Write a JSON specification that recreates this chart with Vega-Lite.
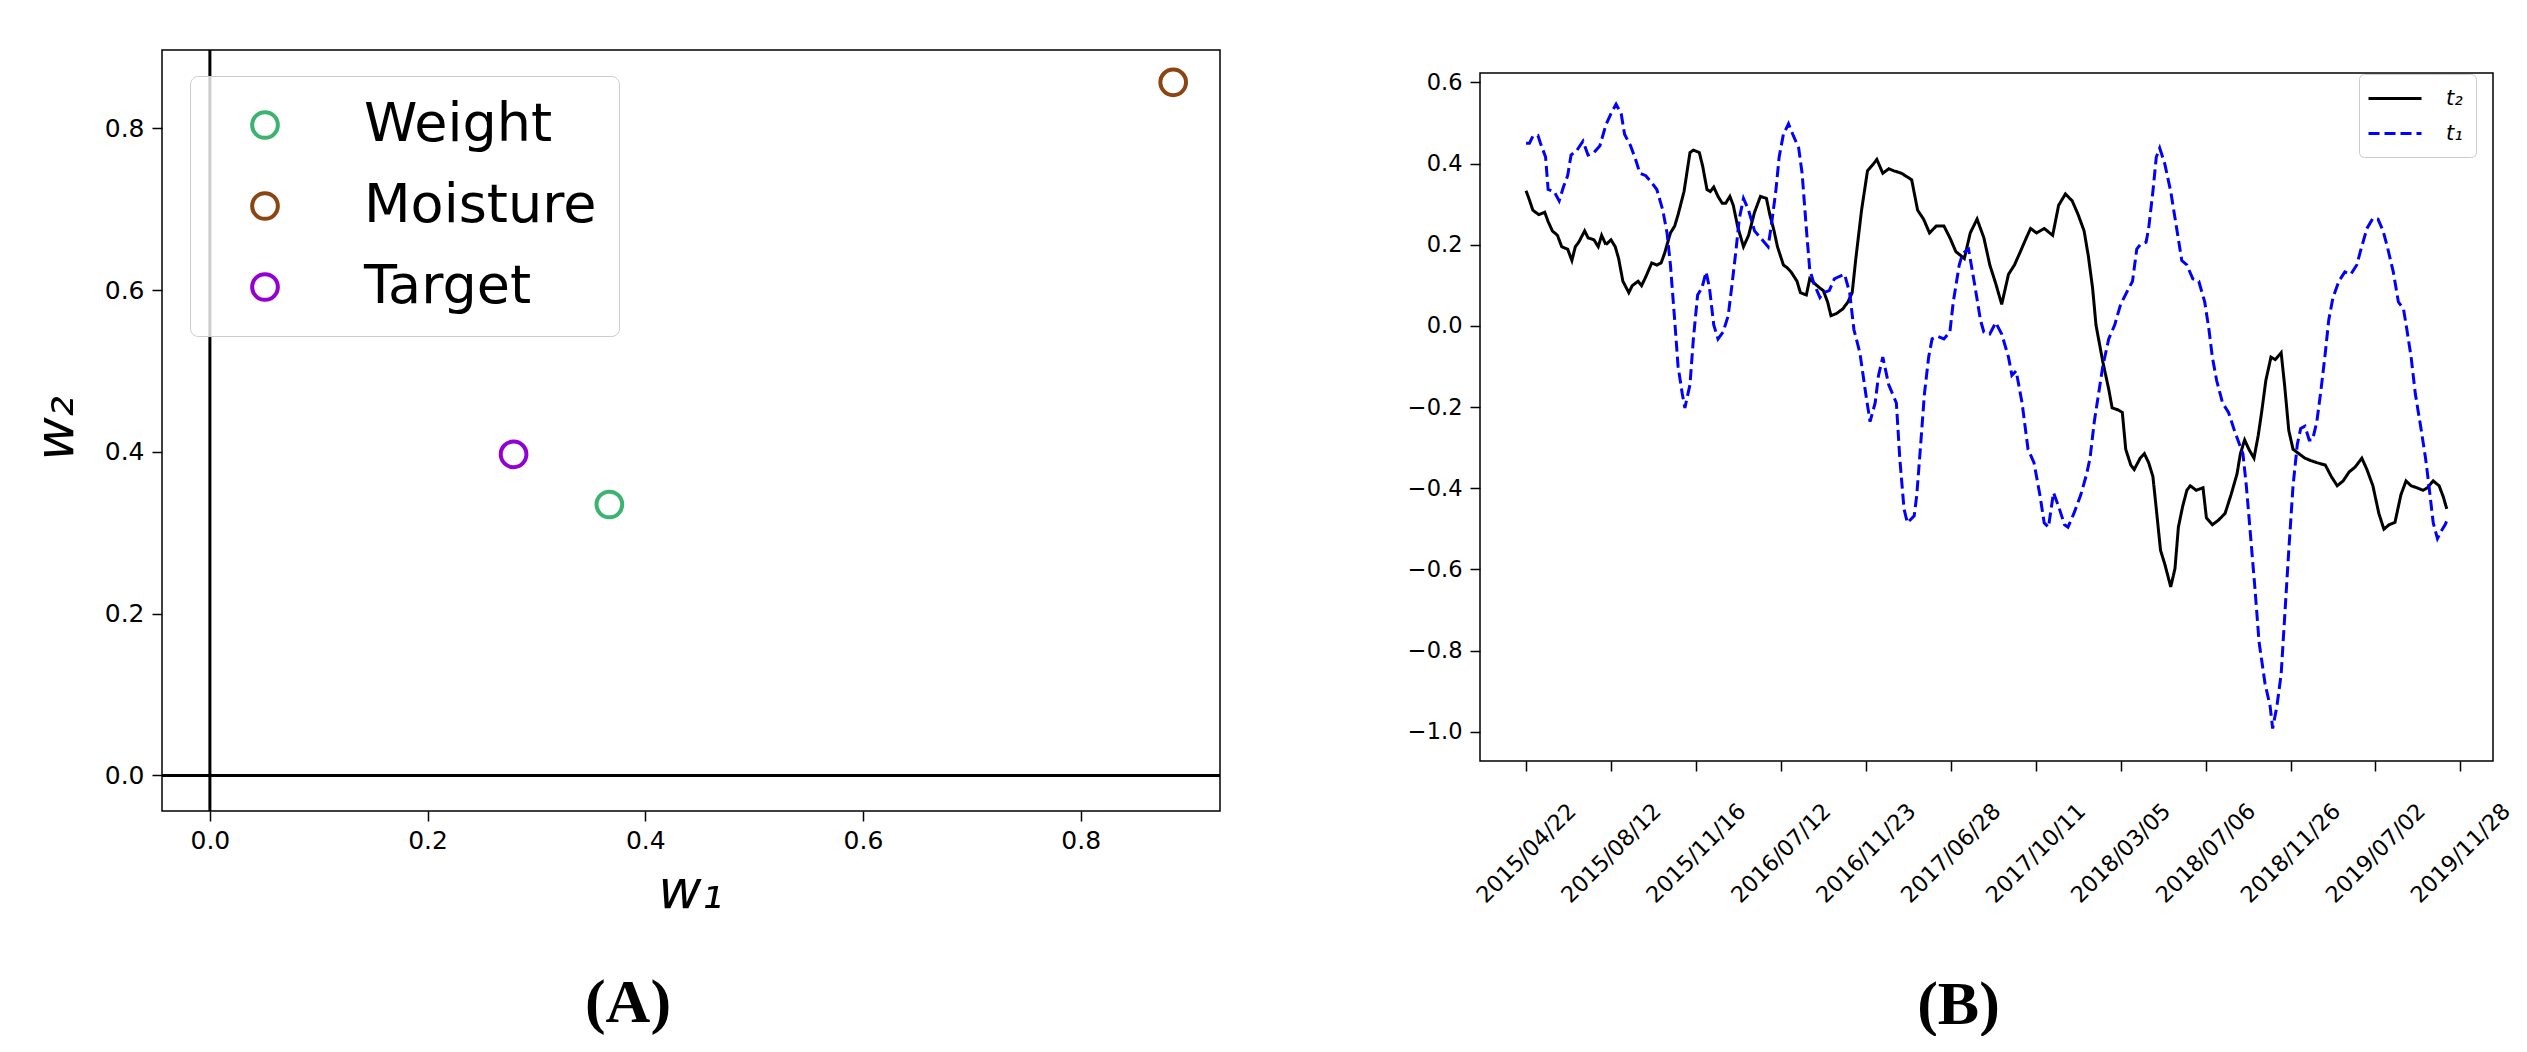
{
  "$schema": "https://vega.github.io/schema/vega-lite/v6.json",
  "background": "white",
  "padding": {"left": 29, "top": 47, "right": 0, "bottom": 0},
  "spacing": 183,
  "config": {
    "view": {"stroke": "black", "strokeWidth": 1.5},
    "font": "DejaVu Sans"
  },
  "resolve": {"scale": {"color": "independent", "strokeDash": "independent"}, "legend": {"color": "independent", "strokeDash": "independent"}},
  "hconcat": [
    {
      "width": 1058,
      "height": 761,
      "title": {"text": "(A)", "orient": "bottom", "font": "Liberation Serif", "fontWeight": "bold", "fontSize": 62, "color": "black", "offset": 55, "baseline": "top", "anchor": "middle", "frame": "group", "dx": -63},
      "layer": [
        {
          "data": {"values": [{}]},
          "mark": {"type": "rule", "color": "black", "strokeWidth": 3},
          "encoding": {"x": {"datum": 0, "type": "quantitative"}}
        },
        {
          "data": {"values": [{}]},
          "mark": {"type": "rule", "color": "black", "strokeWidth": 3},
          "encoding": {"y": {"datum": 0, "type": "quantitative"}}
        },
        {
          "data": {"values": [
            {"feature": "Weight", "w1": 0.367, "w2": 0.335},
            {"feature": "Moisture", "w1": 0.885, "w2": 0.857},
            {"feature": "Target", "w1": 0.279, "w2": 0.397}
          ]},
          "mark": {"type": "point", "filled": false, "shape": "circle", "strokeWidth": 4, "size": 660, "opacity": 1},
          "encoding": {
            "x": {"field": "w1", "type": "quantitative",
              "scale": {"domain": [-0.044, 0.928], "nice": false, "zero": false},
              "axis": {"title": "w₁", "values": [0, 0.2, 0.4, 0.6, 0.8], "format": ".1f", "grid": false, "domain": false,
                "tickColor": "black", "tickWidth": 1.5, "tickSize": 10, "labelFont": "DejaVu Sans", "labelFontSize": 25, "labelColor": "black",
                "labelPadding": 7, "labelFlush": false, "labelOverlap": false, "labelBaseline": "top",
                "titleFont": "DejaVu Sans", "titleFontStyle": "italic", "titleFontWeight": "normal", "titleFontSize": 53, "titleColor": "black",
                "titleX": 528, "titleY": 80, "titleAlign": "center", "titleBaseline": "middle", "titleAngle": 0}},
            "y": {"field": "w2", "type": "quantitative",
              "scale": {"domain": [-0.044, 0.897], "nice": false, "zero": false},
              "axis": {"title": "w₂", "values": [0, 0.2, 0.4, 0.6, 0.8], "format": ".1f", "grid": false, "domain": false,
                "tickColor": "black", "tickWidth": 1.5, "tickSize": 10, "labelFont": "DejaVu Sans", "labelFontSize": 25, "labelColor": "black",
                "labelPadding": 8, "labelFlush": false, "labelOverlap": false,
                "titleFont": "DejaVu Sans", "titleFontStyle": "italic", "titleFontWeight": "normal", "titleFontSize": 53, "titleColor": "black",
                "titleX": -106, "titleY": 378, "titleAlign": "center", "titleBaseline": "middle", "titleAngle": -90}},
            "color": {"field": "feature", "type": "nominal",
              "scale": {"domain": ["Weight", "Moisture", "Target"], "range": ["#3CB371", "#8B4513", "#9400D3"]},
              "legend": {"title": null, "orient": "none", "legendX": 28, "legendY": 26, "padding": 22,
                "fillColor": "rgba(255,255,255,0.8)", "strokeColor": "#cccccc", "cornerRadius": 8,
                "symbolType": "circle", "symbolSize": 660, "symbolStrokeWidth": 4, "symbolFillColor": "transparent", "symbolOffset": 26,
                "labelFont": "DejaVu Sans", "labelFontStyle": "normal", "labelFontSize": 54, "labelColor": "black", "labelOffset": 72, "rowPadding": 27, "labelLimit": 0}}
          }
        }
      ]
    },
    {
      "spacing": 19,
      "vconcat": [
        {
          "width": 1013,
          "height": 1,
          "view": {"stroke": null},
          "data": {"values": []},
          "mark": {"type": "rule"},
          "encoding": {}
        },
        {
          "width": 1013,
          "height": 688,
          "data": {"values": [
            {"i":0,"v":0.333,"s":"t₂"},{"i":4,"v":0.31,"s":"t₂"},{"i":8,"v":0.285,"s":"t₂"},{"i":15,"v":0.274,"s":"t₂"},{"i":22,"v":0.28,"s":"t₂"},{"i":26,"v":0.257,"s":"t₂"},{"i":31,"v":0.234,"s":"t₂"},{"i":37,"v":0.223,"s":"t₂"},{"i":42,"v":0.195,"s":"t₂"},{"i":49,"v":0.189,"s":"t₂"},{"i":54,"v":0.161,"s":"t₂"},{"i":58,"v":0.195,"s":"t₂"},{"i":62,"v":0.206,"s":"t₂"},{"i":69,"v":0.234,"s":"t₂"},{"i":73,"v":0.217,"s":"t₂"},{"i":80,"v":0.212,"s":"t₂"},{"i":85,"v":0.195,"s":"t₂"},{"i":89,"v":0.223,"s":"t₂"},{"i":94,"v":0.2,"s":"t₂"},{"i":100,"v":0.212,"s":"t₂"},{"i":105,"v":0.195,"s":"t₂"},{"i":109,"v":0.166,"s":"t₂"},{"i":114,"v":0.11,"s":"t₂"},{"i":121,"v":0.082,"s":"t₂"},{"i":125,"v":0.099,"s":"t₂"},{"i":132,"v":0.11,"s":"t₂"},{"i":136,"v":0.099,"s":"t₂"},{"i":141,"v":0.121,"s":"t₂"},{"i":148,"v":0.155,"s":"t₂"},{"i":154,"v":0.15,"s":"t₂"},{"i":159,"v":0.155,"s":"t₂"},{"i":163,"v":0.178,"s":"t₂"},{"i":170,"v":0.229,"s":"t₂"},{"i":175,"v":0.246,"s":"t₂"},{"i":179,"v":0.274,"s":"t₂"},{"i":186,"v":0.331,"s":"t₂"},{"i":193,"v":0.427,"s":"t₂"},{"i":197,"v":0.433,"s":"t₂"},{"i":204,"v":0.427,"s":"t₂"},{"i":208,"v":0.393,"s":"t₂"},{"i":213,"v":0.336,"s":"t₂"},{"i":217,"v":0.331,"s":"t₂"},{"i":221,"v":0.342,"s":"t₂"},{"i":226,"v":0.319,"s":"t₂"},{"i":231,"v":0.302,"s":"t₂"},{"i":235,"v":0.302,"s":"t₂"},{"i":240,"v":0.319,"s":"t₂"},{"i":244,"v":0.297,"s":"t₂"},{"i":249,"v":0.246,"s":"t₂"},{"i":256,"v":0.195,"s":"t₂"},{"i":262,"v":0.223,"s":"t₂"},{"i":269,"v":0.28,"s":"t₂"},{"i":276,"v":0.319,"s":"t₂"},{"i":283,"v":0.314,"s":"t₂"},{"i":287,"v":0.274,"s":"t₂"},{"i":292,"v":0.234,"s":"t₂"},{"i":296,"v":0.195,"s":"t₂"},{"i":303,"v":0.15,"s":"t₂"},{"i":307,"v":0.144,"s":"t₂"},{"i":312,"v":0.133,"s":"t₂"},{"i":319,"v":0.11,"s":"t₂"},{"i":323,"v":0.082,"s":"t₂"},{"i":330,"v":0.076,"s":"t₂"},{"i":334,"v":0.116,"s":"t₂"},{"i":340,"v":0.104,"s":"t₂"},{"i":346,"v":0.093,"s":"t₂"},{"i":350,"v":0.087,"s":"t₂"},{"i":355,"v":0.059,"s":"t₂"},{"i":359,"v":0.025,"s":"t₂"},{"i":366,"v":0.031,"s":"t₂"},{"i":373,"v":0.042,"s":"t₂"},{"i":379,"v":0.059,"s":"t₂"},{"i":384,"v":0.082,"s":"t₂"},{"i":388,"v":0.161,"s":"t₂"},{"i":395,"v":0.285,"s":"t₂"},{"i":402,"v":0.382,"s":"t₂"},{"i":409,"v":0.399,"s":"t₂"},{"i":413,"v":0.41,"s":"t₂"},{"i":420,"v":0.376,"s":"t₂"},{"i":427,"v":0.387,"s":"t₂"},{"i":433,"v":0.382,"s":"t₂"},{"i":442,"v":0.376,"s":"t₂"},{"i":454,"v":0.36,"s":"t₂"},{"i":461,"v":0.285,"s":"t₂"},{"i":468,"v":0.263,"s":"t₂"},{"i":475,"v":0.229,"s":"t₂"},{"i":483,"v":0.246,"s":"t₂"},{"i":492,"v":0.246,"s":"t₂"},{"i":499,"v":0.217,"s":"t₂"},{"i":506,"v":0.183,"s":"t₂"},{"i":516,"v":0.166,"s":"t₂"},{"i":523,"v":0.229,"s":"t₂"},{"i":531,"v":0.263,"s":"t₂"},{"i":539,"v":0.217,"s":"t₂"},{"i":546,"v":0.15,"s":"t₂"},{"i":553,"v":0.104,"s":"t₂"},{"i":560,"v":0.053,"s":"t₂"},{"i":568,"v":0.127,"s":"t₂"},{"i":575,"v":0.15,"s":"t₂"},{"i":582,"v":0.183,"s":"t₂"},{"i":589,"v":0.217,"s":"t₂"},{"i":594,"v":0.24,"s":"t₂"},{"i":601,"v":0.229,"s":"t₂"},{"i":610,"v":0.24,"s":"t₂"},{"i":620,"v":0.223,"s":"t₂"},{"i":627,"v":0.297,"s":"t₂"},{"i":635,"v":0.325,"s":"t₂"},{"i":643,"v":0.308,"s":"t₂"},{"i":650,"v":0.274,"s":"t₂"},{"i":657,"v":0.234,"s":"t₂"},{"i":662,"v":0.172,"s":"t₂"},{"i":667,"v":0.093,"s":"t₂"},{"i":671,"v":0.002,"s":"t₂"},{"i":679,"v":-0.088,"s":"t₂"},{"i":686,"v":-0.156,"s":"t₂"},{"i":690,"v":-0.202,"s":"t₂"},{"i":697,"v":-0.207,"s":"t₂"},{"i":702,"v":-0.213,"s":"t₂"},{"i":706,"v":-0.304,"s":"t₂"},{"i":712,"v":-0.343,"s":"t₂"},{"i":716,"v":-0.354,"s":"t₂"},{"i":723,"v":-0.326,"s":"t₂"},{"i":728,"v":-0.315,"s":"t₂"},{"i":733,"v":-0.337,"s":"t₂"},{"i":738,"v":-0.371,"s":"t₂"},{"i":742,"v":-0.451,"s":"t₂"},{"i":747,"v":-0.553,"s":"t₂"},{"i":752,"v":-0.587,"s":"t₂"},{"i":759,"v":-0.643,"s":"t₂"},{"i":764,"v":-0.598,"s":"t₂"},{"i":768,"v":-0.496,"s":"t₂"},{"i":773,"v":-0.445,"s":"t₂"},{"i":778,"v":-0.405,"s":"t₂"},{"i":782,"v":-0.394,"s":"t₂"},{"i":789,"v":-0.405,"s":"t₂"},{"i":797,"v":-0.399,"s":"t₂"},{"i":801,"v":-0.473,"s":"t₂"},{"i":808,"v":-0.49,"s":"t₂"},{"i":815,"v":-0.479,"s":"t₂"},{"i":823,"v":-0.462,"s":"t₂"},{"i":830,"v":-0.416,"s":"t₂"},{"i":837,"v":-0.365,"s":"t₂"},{"i":841,"v":-0.315,"s":"t₂"},{"i":846,"v":-0.281,"s":"t₂"},{"i":851,"v":-0.304,"s":"t₂"},{"i":857,"v":-0.326,"s":"t₂"},{"i":862,"v":-0.27,"s":"t₂"},{"i":866,"v":-0.213,"s":"t₂"},{"i":871,"v":-0.134,"s":"t₂"},{"i":877,"v":-0.077,"s":"t₂"},{"i":882,"v":-0.083,"s":"t₂"},{"i":889,"v":-0.066,"s":"t₂"},{"i":893,"v":-0.145,"s":"t₂"},{"i":898,"v":-0.258,"s":"t₂"},{"i":903,"v":-0.304,"s":"t₂"},{"i":910,"v":-0.315,"s":"t₂"},{"i":917,"v":-0.326,"s":"t₂"},{"i":924,"v":-0.332,"s":"t₂"},{"i":931,"v":-0.337,"s":"t₂"},{"i":941,"v":-0.343,"s":"t₂"},{"i":948,"v":-0.371,"s":"t₂"},{"i":955,"v":-0.394,"s":"t₂"},{"i":962,"v":-0.382,"s":"t₂"},{"i":969,"v":-0.36,"s":"t₂"},{"i":976,"v":-0.348,"s":"t₂"},{"i":984,"v":-0.326,"s":"t₂"},{"i":990,"v":-0.354,"s":"t₂"},{"i":997,"v":-0.394,"s":"t₂"},{"i":1004,"v":-0.462,"s":"t₂"},{"i":1010,"v":-0.501,"s":"t₂"},{"i":1016,"v":-0.49,"s":"t₂"},{"i":1023,"v":-0.484,"s":"t₂"},{"i":1030,"v":-0.416,"s":"t₂"},{"i":1036,"v":-0.382,"s":"t₂"},{"i":1042,"v":-0.394,"s":"t₂"},{"i":1049,"v":-0.399,"s":"t₂"},{"i":1056,"v":-0.405,"s":"t₂"},{"i":1061,"v":-0.399,"s":"t₂"},{"i":1068,"v":-0.382,"s":"t₂"},{"i":1075,"v":-0.394,"s":"t₂"},{"i":1080,"v":-0.422,"s":"t₂"},{"i":1084,"v":-0.451,"s":"t₂"},
            {"i":0,"v":0.45,"s":"t₁"},{"i":4,"v":0.45,"s":"t₁"},{"i":8,"v":0.467,"s":"t₁"},{"i":14,"v":0.469,"s":"t₁"},{"i":17,"v":0.45,"s":"t₁"},{"i":23,"v":0.416,"s":"t₁"},{"i":26,"v":0.336,"s":"t₁"},{"i":33,"v":0.331,"s":"t₁"},{"i":39,"v":0.308,"s":"t₁"},{"i":44,"v":0.342,"s":"t₁"},{"i":49,"v":0.37,"s":"t₁"},{"i":53,"v":0.421,"s":"t₁"},{"i":60,"v":0.433,"s":"t₁"},{"i":67,"v":0.455,"s":"t₁"},{"i":73,"v":0.421,"s":"t₁"},{"i":80,"v":0.427,"s":"t₁"},{"i":87,"v":0.444,"s":"t₁"},{"i":94,"v":0.495,"s":"t₁"},{"i":100,"v":0.523,"s":"t₁"},{"i":106,"v":0.546,"s":"t₁"},{"i":112,"v":0.523,"s":"t₁"},{"i":116,"v":0.472,"s":"t₁"},{"i":123,"v":0.444,"s":"t₁"},{"i":129,"v":0.41,"s":"t₁"},{"i":134,"v":0.376,"s":"t₁"},{"i":141,"v":0.37,"s":"t₁"},{"i":148,"v":0.353,"s":"t₁"},{"i":154,"v":0.336,"s":"t₁"},{"i":161,"v":0.285,"s":"t₁"},{"i":166,"v":0.229,"s":"t₁"},{"i":170,"v":0.15,"s":"t₁"},{"i":175,"v":0.014,"s":"t₁"},{"i":179,"v":-0.1,"s":"t₁"},{"i":184,"v":-0.168,"s":"t₁"},{"i":187,"v":-0.202,"s":"t₁"},{"i":193,"v":-0.145,"s":"t₁"},{"i":197,"v":-0.032,"s":"t₁"},{"i":202,"v":0.076,"s":"t₁"},{"i":207,"v":0.093,"s":"t₁"},{"i":212,"v":0.133,"s":"t₁"},{"i":216,"v":0.093,"s":"t₁"},{"i":221,"v":0.002,"s":"t₁"},{"i":226,"v":-0.032,"s":"t₁"},{"i":232,"v":-0.015,"s":"t₁"},{"i":238,"v":0.025,"s":"t₁"},{"i":242,"v":0.093,"s":"t₁"},{"i":247,"v":0.183,"s":"t₁"},{"i":251,"v":0.263,"s":"t₁"},{"i":256,"v":0.314,"s":"t₁"},{"i":262,"v":0.285,"s":"t₁"},{"i":269,"v":0.234,"s":"t₁"},{"i":278,"v":0.212,"s":"t₁"},{"i":285,"v":0.195,"s":"t₁"},{"i":289,"v":0.251,"s":"t₁"},{"i":294,"v":0.331,"s":"t₁"},{"i":298,"v":0.416,"s":"t₁"},{"i":303,"v":0.472,"s":"t₁"},{"i":309,"v":0.498,"s":"t₁"},{"i":314,"v":0.472,"s":"t₁"},{"i":321,"v":0.438,"s":"t₁"},{"i":325,"v":0.376,"s":"t₁"},{"i":330,"v":0.24,"s":"t₁"},{"i":334,"v":0.138,"s":"t₁"},{"i":339,"v":0.104,"s":"t₁"},{"i":346,"v":0.07,"s":"t₁"},{"i":350,"v":0.082,"s":"t₁"},{"i":357,"v":0.087,"s":"t₁"},{"i":363,"v":0.116,"s":"t₁"},{"i":368,"v":0.121,"s":"t₁"},{"i":375,"v":0.127,"s":"t₁"},{"i":381,"v":0.082,"s":"t₁"},{"i":386,"v":-0.009,"s":"t₁"},{"i":393,"v":-0.066,"s":"t₁"},{"i":400,"v":-0.168,"s":"t₁"},{"i":405,"v":-0.236,"s":"t₁"},{"i":411,"v":-0.19,"s":"t₁"},{"i":415,"v":-0.122,"s":"t₁"},{"i":420,"v":-0.077,"s":"t₁"},{"i":427,"v":-0.145,"s":"t₁"},{"i":436,"v":-0.19,"s":"t₁"},{"i":440,"v":-0.326,"s":"t₁"},{"i":445,"v":-0.451,"s":"t₁"},{"i":449,"v":-0.485,"s":"t₁"},{"i":457,"v":-0.468,"s":"t₁"},{"i":460,"v":-0.417,"s":"t₁"},{"i":465,"v":-0.281,"s":"t₁"},{"i":469,"v":-0.168,"s":"t₁"},{"i":474,"v":-0.077,"s":"t₁"},{"i":478,"v":-0.032,"s":"t₁"},{"i":485,"v":-0.026,"s":"t₁"},{"i":492,"v":-0.032,"s":"t₁"},{"i":499,"v":-0.015,"s":"t₁"},{"i":503,"v":0.059,"s":"t₁"},{"i":510,"v":0.15,"s":"t₁"},{"i":514,"v":0.178,"s":"t₁"},{"i":521,"v":0.189,"s":"t₁"},{"i":528,"v":0.104,"s":"t₁"},{"i":535,"v":0.014,"s":"t₁"},{"i":539,"v":-0.015,"s":"t₁"},{"i":546,"v":-0.02,"s":"t₁"},{"i":553,"v":0.008,"s":"t₁"},{"i":560,"v":-0.02,"s":"t₁"},{"i":568,"v":-0.077,"s":"t₁"},{"i":572,"v":-0.122,"s":"t₁"},{"i":577,"v":-0.111,"s":"t₁"},{"i":584,"v":-0.19,"s":"t₁"},{"i":591,"v":-0.304,"s":"t₁"},{"i":598,"v":-0.337,"s":"t₁"},{"i":605,"v":-0.417,"s":"t₁"},{"i":610,"v":-0.485,"s":"t₁"},{"i":615,"v":-0.496,"s":"t₁"},{"i":621,"v":-0.411,"s":"t₁"},{"i":627,"v":-0.445,"s":"t₁"},{"i":634,"v":-0.49,"s":"t₁"},{"i":638,"v":-0.496,"s":"t₁"},{"i":645,"v":-0.462,"s":"t₁"},{"i":653,"v":-0.417,"s":"t₁"},{"i":660,"v":-0.365,"s":"t₁"},{"i":664,"v":-0.326,"s":"t₁"},{"i":669,"v":-0.236,"s":"t₁"},{"i":674,"v":-0.168,"s":"t₁"},{"i":679,"v":-0.1,"s":"t₁"},{"i":686,"v":-0.032,"s":"t₁"},{"i":693,"v":0.002,"s":"t₁"},{"i":700,"v":0.053,"s":"t₁"},{"i":707,"v":0.082,"s":"t₁"},{"i":714,"v":0.11,"s":"t₁"},{"i":719,"v":0.189,"s":"t₁"},{"i":723,"v":0.2,"s":"t₁"},{"i":730,"v":0.206,"s":"t₁"},{"i":733,"v":0.24,"s":"t₁"},{"i":738,"v":0.331,"s":"t₁"},{"i":742,"v":0.416,"s":"t₁"},{"i":746,"v":0.438,"s":"t₁"},{"i":752,"v":0.399,"s":"t₁"},{"i":759,"v":0.331,"s":"t₁"},{"i":766,"v":0.24,"s":"t₁"},{"i":772,"v":0.161,"s":"t₁"},{"i":778,"v":0.15,"s":"t₁"},{"i":785,"v":0.116,"s":"t₁"},{"i":792,"v":0.11,"s":"t₁"},{"i":799,"v":0.059,"s":"t₁"},{"i":804,"v":-0.009,"s":"t₁"},{"i":808,"v":-0.077,"s":"t₁"},{"i":813,"v":-0.134,"s":"t₁"},{"i":820,"v":-0.19,"s":"t₁"},{"i":827,"v":-0.213,"s":"t₁"},{"i":834,"v":-0.258,"s":"t₁"},{"i":844,"v":-0.315,"s":"t₁"},{"i":848,"v":-0.394,"s":"t₁"},{"i":853,"v":-0.518,"s":"t₁"},{"i":858,"v":-0.643,"s":"t₁"},{"i":863,"v":-0.779,"s":"t₁"},{"i":870,"v":-0.881,"s":"t₁"},{"i":876,"v":-0.937,"s":"t₁"},{"i":879,"v":-0.992,"s":"t₁"},{"i":884,"v":-0.937,"s":"t₁"},{"i":889,"v":-0.858,"s":"t₁"},{"i":893,"v":-0.722,"s":"t₁"},{"i":898,"v":-0.552,"s":"t₁"},{"i":903,"v":-0.394,"s":"t₁"},{"i":908,"v":-0.292,"s":"t₁"},{"i":912,"v":-0.253,"s":"t₁"},{"i":917,"v":-0.247,"s":"t₁"},{"i":922,"v":-0.281,"s":"t₁"},{"i":926,"v":-0.281,"s":"t₁"},{"i":931,"v":-0.236,"s":"t₁"},{"i":936,"v":-0.156,"s":"t₁"},{"i":941,"v":-0.066,"s":"t₁"},{"i":945,"v":0.014,"s":"t₁"},{"i":950,"v":0.07,"s":"t₁"},{"i":957,"v":0.11,"s":"t₁"},{"i":964,"v":0.133,"s":"t₁"},{"i":971,"v":0.127,"s":"t₁"},{"i":978,"v":0.15,"s":"t₁"},{"i":983,"v":0.189,"s":"t₁"},{"i":990,"v":0.24,"s":"t₁"},{"i":997,"v":0.265,"s":"t₁"},{"i":1003,"v":0.263,"s":"t₁"},{"i":1009,"v":0.234,"s":"t₁"},{"i":1014,"v":0.195,"s":"t₁"},{"i":1021,"v":0.133,"s":"t₁"},{"i":1027,"v":0.059,"s":"t₁"},{"i":1033,"v":0.042,"s":"t₁"},{"i":1037,"v":-0.009,"s":"t₁"},{"i":1042,"v":-0.077,"s":"t₁"},{"i":1047,"v":-0.168,"s":"t₁"},{"i":1054,"v":-0.258,"s":"t₁"},{"i":1059,"v":-0.326,"s":"t₁"},{"i":1063,"v":-0.394,"s":"t₁"},{"i":1068,"v":-0.485,"s":"t₁"},{"i":1073,"v":-0.524,"s":"t₁"},{"i":1077,"v":-0.507,"s":"t₁"},{"i":1082,"v":-0.49,"s":"t₁"},{"i":1084,"v":-0.48,"s":"t₁"}
          ]},
          "mark": {"type": "line", "strokeWidth": 3},
          "encoding": {
            "x": {"field": "i", "type": "quantitative",
              "scale": {"domain": [-54.2, 1138.4], "nice": false, "zero": false},
              "axis": {"title": "(B)", "values": [0, 100, 200, 300, 400, 500, 600, 700, 800, 900, 1000, 1100],
                "labelExpr": "['2015/04/22','2015/08/12','2015/11/16','2016/07/12','2016/11/23','2017/06/28','2017/10/11','2018/03/05','2018/07/06','2018/11/26','2019/07/02','2019/11/28'][round(datum.value/100)]",
                "grid": false, "domain": false, "tickColor": "black", "tickWidth": 1.5, "tickSize": 10,
                "labelFont": "DejaVu Sans", "labelFontSize": 22.5, "labelColor": "black", "labelAngle": -45, "labelAlign": "center", "labelBaseline": "middle",
                "labelPadding": 82, "labelFlush": false, "labelOverlap": false, "labelBound": false,
                "titleFont": "Liberation Serif", "titleFontWeight": "bold", "titleFontSize": 62, "titleColor": "black",
                "titleX": 478, "titleY": 262, "titleAlign": "center", "titleBaseline": "alphabetic", "titleAngle": 0}},
            "y": {"field": "v", "type": "quantitative",
              "scale": {"domain": [-1.072, 0.623], "nice": false, "zero": false},
              "axis": {"title": null, "values": [-1, -0.8, -0.6, -0.4, -0.2, 0, 0.2, 0.4, 0.6], "format": ".1f", "grid": false, "domain": false,
                "tickColor": "black", "tickWidth": 1.5, "tickSize": 10, "labelFont": "DejaVu Sans", "labelFontSize": 22.5, "labelColor": "black",
                "labelPadding": 8, "labelFlush": false, "labelOverlap": false}},
            "color": {"field": "s", "type": "nominal",
              "scale": {"domain": ["t₂", "t₁"], "range": ["black", "blue"]},
              "legend": {"title": null, "orient": "none", "legendX": 879, "legendY": 24, "padding": 13,
                "fillColor": "rgba(255,255,255,0.8)", "strokeColor": "#cccccc", "cornerRadius": 5,
                "symbolType": "M-2.65,0H2.65", "symbolSize": 400, "symbolStrokeWidth": 3, "symbolOffset": 11.5,
                "labelFont": "DejaVu Sans", "labelFontStyle": "italic", "labelFontSize": 21, "labelColor": "black", "labelOffset": 39.5, "rowPadding": 13}},
            "strokeDash": {"field": "s", "type": "nominal",
              "scale": {"domain": ["t₂", "t₁"], "range": [[1, 0], [11, 5]]},
              "legend": {"title": null, "orient": "none", "legendX": 879, "legendY": 24, "padding": 13,
                "fillColor": "rgba(255,255,255,0.8)", "strokeColor": "#cccccc", "cornerRadius": 5,
                "symbolType": "M-2.65,0H2.65", "symbolSize": 400, "symbolStrokeWidth": 3, "symbolOffset": 11.5,
                "labelFont": "DejaVu Sans", "labelFontStyle": "italic", "labelFontSize": 21, "labelColor": "black", "labelOffset": 39.5, "rowPadding": 13}}
          }
        }
      ]
    }
  ]
}
